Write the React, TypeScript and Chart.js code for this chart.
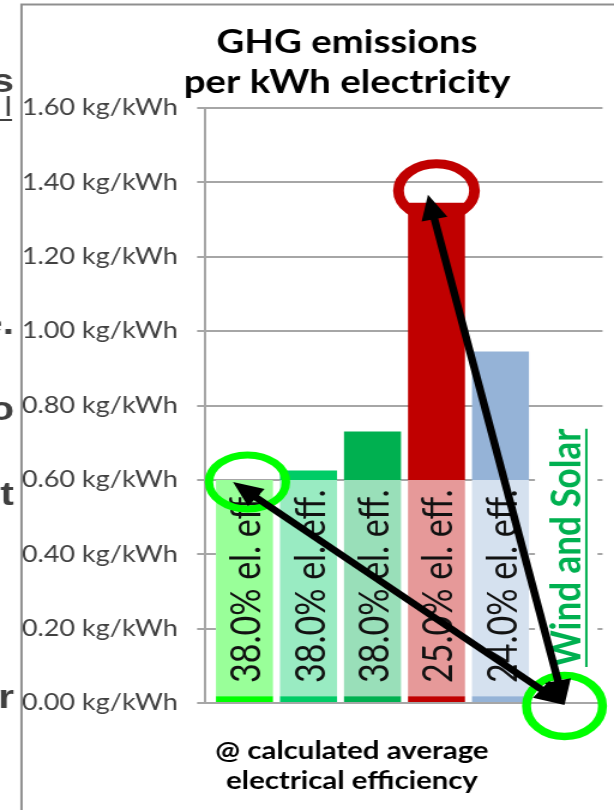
import React, { useEffect, useRef } from "react";
import { Chart, registerables } from "chart.js";

Chart.register(...registerables);

// ---------------- data ----------------
const barLabels = ["38.0% el. eff.", "38.0% el. eff.", "38.0% el. eff.", "25.0% el. eff.", "24.0% el. eff."];
const extraCategory = "Wind and Solar";
const emissions = [0.6, 0.625, 0.73, 1.345, 0.945]; // kg CO2e per kWh
const fullColors = ["#00FF00", "#00CC66", "#00B050", "#C00000", "#95B3D7"];
const lightColors = ["#99FF99", "#99EBC2", "#99DFB9", "#E69999", "#D5E1EF"];
const stripValue = 0.018;
const lightCap = 0.6;
const yMax = 1.6;
const yStep = 0.2;
const tickUnit = "kg/kWh";
const titleLines = ["GHG emissions", "per kWh electricity"];
const xTitleLines = ["@ calculated average", "electrical efficiency"];
const sideFragments = ["s", "l", "e.", "o", "t", "r"];
const sideFragmentBaselines = [92, 116, 334, 420, 505, 708];

// ---------------- layout ----------------
const CW = 512; // canvas bitmap width (stretched to 614 css px)
const CH = 810;
const S = 614 / CW;
const AXIS_X = 205.5 / S;
const RIGHT_X = 602.5 / S;
const TOP_Y = 108;
const BOTTOM_Y = 703;
const X_MIN = -0.609;
const X_MAX = 5.594;

const LATO = '"Lato", "Open Sans", sans-serif';
const windFont = `bold 35px ${LATO}`;

function arrowHead(ctx: CanvasRenderingContext2D, tx: number, ty: number, ux: number, uy: number, len: number, half: number) {
  const bx = tx - ux * len;
  const by = ty - uy * len;
  const px = -uy;
  const py = ux;
  ctx.beginPath();
  ctx.moveTo(tx, ty);
  ctx.lineTo(bx + px * half, by + py * half);
  ctx.lineTo(bx - px * half, by - py * half);
  ctx.closePath();
  ctx.fill();
}

function doubleArrow(ctx: CanvasRenderingContext2D, x1: number, y1: number, x2: number, y2: number) {
  const len = 25, half = 11;
  const dx = x2 - x1, dy = y2 - y1;
  const L = Math.hypot(dx, dy);
  const ux = dx / L, uy = dy / L;
  ctx.save();
  ctx.strokeStyle = "#000";
  ctx.fillStyle = "#000";
  ctx.lineWidth = 6.5;
  ctx.lineCap = "butt";
  ctx.beginPath();
  ctx.moveTo(x1 + ux * len * 0.8, y1 + uy * len * 0.8);
  ctx.lineTo(x2 - ux * len * 0.8, y2 - uy * len * 0.8);
  ctx.stroke();
  arrowHead(ctx, x2, y2, ux, uy, len, half);
  arrowHead(ctx, x1, y1, -ux, -uy, len, half);
  ctx.restore();
}

function ellipse(ctx: CanvasRenderingContext2D, cx: number, cy: number, rx: number, ry: number, color: string, lw: number) {
  ctx.save();
  ctx.strokeStyle = color;
  ctx.lineWidth = lw;
  ctx.beginPath();
  ctx.ellipse(cx, cy, rx, ry, 0, 0, Math.PI * 2);
  ctx.stroke();
  ctx.restore();
}

const overlayPlugin = {
  id: "overlay",
  beforeDatasetsDraw(chart: any) {
    const ctx = chart.ctx as CanvasRenderingContext2D;
    const xs = chart.scales.x, ys = chart.scales.y;
    const meta = chart.getDatasetMeta(0);
    const first = meta.data[0], last = meta.data[emissions.length - 1];
    const left = first.x - first.width / 2;
    const right = last.x + last.width / 2;
    const top = ys.getPixelForValue(lightCap) + 1.5;
    const bottom = ys.getPixelForValue(0) - 1.5;
    ctx.save();
    ctx.fillStyle = "#fff";
    ctx.fillRect(left, top, right - left, bottom - top);
    ctx.font = windFont;
    const tw = ctx.measureText(extraCategory).width;
    const cx = xs.getPixelForValue(emissions.length);
    const y0 = ys.getPixelForValue(0);
    ctx.fillRect(cx - 29.5 / S, y0 - 44 - tw, 62.5 / S, tw + 36);
    ctx.restore();
  },
  afterDatasetsDraw(chart: any) {
    const ctx = chart.ctx as CanvasRenderingContext2D;
    const xs = chart.scales.x, ys = chart.scales.y;
    const X = (i: number) => xs.getPixelForValue(i);
    const Y = (v: number) => ys.getPixelForValue(v);
    const y0 = Y(0);

    // rotated labels in bars
    ctx.save();
    ctx.fillStyle = "#111";
    ctx.font = `34px ${LATO}`;
    ctx.textAlign = "left";
    ctx.textBaseline = "alphabetic";
    barLabels.forEach((lab, i) => {
      ctx.save();
      ctx.translate(X(i) + 16 / S, y0 - 20);
      ctx.rotate(-Math.PI / 2);
      ctx.fillText(lab, 0, 0);
      ctx.restore();
    });
    ctx.restore();

    // Wind and Solar label
    const wi = emissions.length;
    ctx.save();
    ctx.font = windFont;
    ctx.fillStyle = "#00B050";
    ctx.textAlign = "left";
    ctx.textBaseline = "alphabetic";
    const tw = ctx.measureText(extraCategory).width;
    ctx.translate(X(wi) + 15.5 / S, y0 - 36);
    ctx.rotate(-Math.PI / 2);
    ctx.fillText(extraCategory, 0, 0);
    ctx.fillRect(0, 4.3, tw, 2);
    ctx.restore();

    // circles
    ellipse(ctx, X(0) + 3 / S, Y(lightCap) + 2, 38.5 / S, 27, "#00FF00", 7);
    ellipse(ctx, X(wi), y0 + 3, 38 / S, 30.5, "#00FF00", 7.5);
    ellipse(ctx, X(3), Y(emissions[3]) - 12, 38 / S, 27, "#C00000", 9);

    // arrows
    const bx = X(wi), by = y0 + 2;
    doubleArrow(ctx, bx, by, X(0) - 11.5 / S, Y(lightCap) + 2);
    doubleArrow(ctx, bx, by, X(3) - 8.5 / S, Y(emissions[3]) - 8);
  },
  afterDraw(chart: any) {
    const ctx = chart.ctx as CanvasRenderingContext2D;
    ctx.save();
    // frame
    ctx.strokeStyle = "#8F8F8F";
    ctx.lineWidth = 2;
    ctx.beginPath();
    ctx.moveTo(21.5 / S, CH);
    ctx.lineTo(21.5 / S, 4.5);
    ctx.lineTo(CW, 4.5);
    ctx.stroke();

    // title
    ctx.fillStyle = "#000";
    ctx.textAlign = "center";
    ctx.textBaseline = "alphabetic";
    ctx.font = `bold 32px ${LATO}`;
    ctx.fillText(titleLines[0], 347 / S, 53);
    ctx.fillText(titleLines[1], 347 / S, 93);

    // x title
    ctx.font = `bold 24.5px ${LATO}`;
    ctx.fillText(xTitleLines[0], 352 / S, 759);
    ctx.fillText(xTitleLines[1], 352 / S, 789);

    // side fragments
    ctx.fillStyle = "#404040";
    ctx.textAlign = "right";
    sideFragments.forEach((f, i) => {
      if (f === "l") {
        ctx.font = `28px "Liberation Sans", sans-serif`;
        ctx.fillText(f, 12 / S, sideFragmentBaselines[i]);
        ctx.fillRect(0, sideFragmentBaselines[i] + 3, 12 / S, 2);
      } else {
        ctx.font = `bold 34px "Liberation Sans", sans-serif`;
        ctx.fillText(f, 14 / S, sideFragmentBaselines[i]);
      }
    });
    ctx.restore();
  },
};

export default function App() {
  const ref = useRef<HTMLCanvasElement | null>(null);
  useEffect(() => {
    if (!ref.current) return;
    const idx = emissions.map((_, i) => i);
    const common = {
      barPercentage: 57 / 64,
      categoryPercentage: 1,
      borderWidth: 0,
    };
    const chart = new Chart(ref.current, {
      type: "bar",
      data: {
        datasets: [
          { ...common, label: "base", data: idx.map((i) => ({ x: i, y: stripValue })), backgroundColor: fullColors },
          {
            ...common,
            label: "to 0.6",
            data: idx.map((i) => ({ x: i, y: Math.min(emissions[i], lightCap) - stripValue })),
            backgroundColor: lightColors,
          },
          {
            ...common,
            label: "above 0.6",
            data: idx.map((i) => ({ x: i, y: Math.max(emissions[i] - lightCap, 0) })),
            backgroundColor: fullColors,
          },
        ],
      },
      options: {
        animation: false,
        responsive: false,
        devicePixelRatio: 1,
        events: [],
        layout: { padding: { left: 0, top: TOP_Y, right: CW - RIGHT_X, bottom: CH - BOTTOM_Y } },
        plugins: { legend: { display: false }, tooltip: { enabled: false }, title: { display: false } },
        scales: {
          x: {
            type: "linear",
            display: false,
            stacked: true,
            offset: false,
            min: X_MIN,
            max: X_MAX,
            afterBuildTicks: (s: any) => {
              s.ticks = [...idx, emissions.length].map((v) => ({ value: v }));
            },
          },
          y: {
            stacked: true,
            min: 0,
            max: yMax,
            afterFit: (s: any) => {
              s.width = AXIS_X;
            },
            ticks: {
              stepSize: yStep,
              callback: (v: any) => `${Number(v).toFixed(2)} ${tickUnit}`,
              font: { family: LATO, size: 22.5 },
              color: "#404040",
              padding: 16,
            },
            grid: { color: "#A6A6A6", lineWidth: 2, tickLength: 7, drawTicks: true },
            border: { display: true, color: "#A6A6A6", width: 2 },
          },
        },
      } as any,
      plugins: [overlayPlugin],
    });
    return () => chart.destroy();
  }, []);
  return (
    <div style={{ position: "fixed", left: 0, top: 0, width: 614, height: 810, background: "#fff", overflow: "hidden" }}>
      <canvas ref={ref} width={CW} height={CH} style={{ width: "614px", height: "810px", display: "block" }} />
    </div>
  );
}
